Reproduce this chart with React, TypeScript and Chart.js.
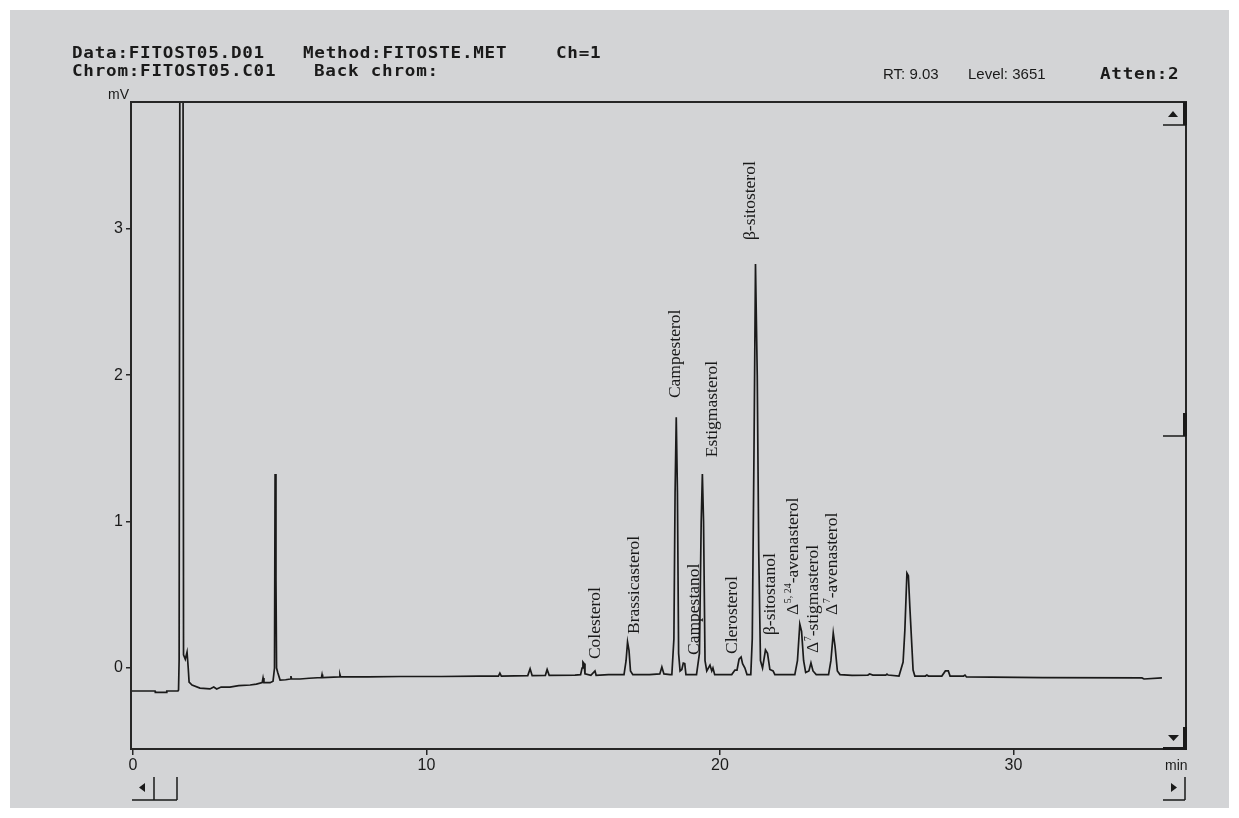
import React, { useEffect, useRef } from "react";
import { Chart, registerables } from "chart.js";

Chart.register(...registerables);

// ---- trace (retention time in min, detector signal in mV) ----
const retentionTime = [
  -0.07, 0.75, 0.76, 1.14, 1.15, 1.53, 1.55, 1.57, 1.6, 1.7, 1.72, 1.78, 1.84, 1.88, 1.91,
  2.01, 2.28, 2.62, 2.75, 2.85, 3.0, 3.3, 3.6, 3.99, 4.2, 4.4, 4.43, 4.46, 4.67, 4.77,
  4.82, 4.84, 4.87, 4.89, 4.93, 5.01, 5.2, 5.36, 5.38, 5.4, 5.69, 6.0, 6.42, 6.44, 6.46, 7.03, 7.05, 7.07, 8.0, 9.1,
  10.5, 11.8, 12.45, 12.5, 12.55, 13.45, 13.53, 13.6, 14.05, 14.11, 14.18, 15.06,
  15.25, 15.3, 15.33, 15.37, 15.4, 15.6, 15.74, 15.78, 16.2, 16.73, 16.8, 16.85, 16.9, 16.95, 17.03, 17.6, 17.95, 18.02, 18.09, 18.3,
  18.36, 18.43, 18.47, 18.51, 18.55, 18.59, 18.64, 18.7, 18.75, 18.8, 18.84, 19.2, 19.3, 19.36, 19.4, 19.44, 19.49, 19.55, 19.66, 19.72, 19.76, 19.82,
  20.4, 20.51, 20.58, 20.65, 20.72, 20.77, 20.85, 20.92, 21.05, 21.1, 21.16, 21.21, 21.27, 21.32, 21.38, 21.45, 21.55, 21.62, 21.7, 21.81, 21.87,
  22.55, 22.64, 22.72, 22.78, 22.85, 22.92, 23.03, 23.1, 23.17, 23.28, 23.7, 23.78, 23.86, 23.92, 24.0, 24.09, 24.5,
  25.04, 25.1, 25.21, 25.65, 25.69, 25.73, 26.1, 26.24, 26.3, 26.37, 26.42, 26.47, 26.54, 26.58, 26.64, 27.0, 27.05, 27.1,
  27.56, 27.68, 27.78, 27.84, 28.3, 28.35, 28.4, 31.0, 34.38, 34.45, 35.06,
];
const signalMv = [
  -0.157, -0.157, -0.167, -0.167, -0.157, -0.157, -0.15, 0.055, 5.0, 5.0, 0.09, 0.06, 0.109, 0.0, -0.096,
  -0.116, -0.137, -0.143, -0.13, -0.143, -0.13, -0.13, -0.12, -0.116, -0.11, -0.1, -0.068, -0.1, -0.1, -0.09,
  0.0, 1.324, 0.6, 0.0, -0.03, -0.082, -0.08, -0.075, -0.055, -0.075, -0.075, -0.07, -0.065, -0.045, -0.065, -0.06, -0.045, -0.06, -0.061, -0.058,
  -0.058, -0.055, -0.055, -0.035, -0.055, -0.052, -0.005, -0.052, -0.05, -0.01, -0.05, -0.048,
  -0.045, 0.0, 0.041, 0.03, -0.04, -0.05, -0.02, -0.05, -0.045, -0.045, 0.05, 0.177, 0.12, -0.02, -0.045, -0.045, -0.04, 0.007, -0.04, -0.045,
  -0.045, 0.2, 1.2, 1.713, 1.2, 0.1, -0.02, -0.01, 0.034, 0.03, -0.045, -0.045, 0.1, 1.0, 1.324, 1.0, 0.05, -0.02, 0.02, -0.02, 0.0, -0.045,
  -0.045, -0.014, -0.014, 0.06, 0.075, 0.03, 0.0, -0.045, -0.045, 0.2, 1.5, 2.758, 2.0, 0.8, 0.05, 0.0, 0.123, 0.1, -0.01, -0.02, -0.045,
  -0.045, 0.05, 0.3, 0.25, 0.05, -0.03, -0.02, 0.035, -0.02, -0.045, -0.045, 0.05, 0.239, 0.15, -0.02, -0.045, -0.05,
  -0.048, -0.041, -0.048, -0.048, -0.041, -0.048, -0.055, 0.041, 0.259, 0.648, 0.63, 0.416, 0.143, -0.014, -0.055, -0.055, -0.048, -0.055,
  -0.055, -0.02, -0.02, -0.055, -0.055, -0.048, -0.061, -0.065, -0.068, -0.075, -0.068,
];

// ---- axes ----
const xRange = [-0.07, 35.88];
const yRange = [-0.553, 3.865];
const xTickValues = [0, 10, 20, 30];
const yTickValues = [0, 1, 2, 3];

// ---- peak annotations (position: retention time of text baseline, signal at text start) ----
const labelMain = [
  "Colesterol", "Brassicasterol", "Campesterol", "Campestanol", "Estigmasterol", "Clerosterol",
  "β-sitosterol", "β-sitostanol", "Δ", "Δ", "Δ",
];
const labelSup = ["", "", "", "", "", "", "", "", "5, 24", "7", "7"];
const labelTail = ["", "", "", "", "", "", "", "", "-avenasterol", "-stigmasterol", "-avenasterol"];
const labelTime = [15.91, 17.24, 18.64, 19.28, 19.9, 20.58, 21.2, 21.88, 22.66, 23.34, 23.99];
const labelSignal = [0.061, 0.232, 1.843, 0.089, 1.44, 0.096, 2.922, 0.225, 0.362, 0.102, 0.362];

// ---- header texts ----
const headerLine1 = ["Data:FITOST05.D01", "Method:FITOSTE.MET", "Ch=1"];
const headerLine2 = ["Chrom:FITOST05.C01", "Back chrom:"];
const statusTexts = ["RT: 9.03", "Level: 3651"];
const attenText = "Atten:2";
const yUnit = "mV";
const xUnit = "min";

const INK = "#1a1a1a";

function drawMono(ctx: CanvasRenderingContext2D, text: string, x: number, y: number) {
  const adv = 11.35;
  for (let i = 0; i < text.length; i++) {
    ctx.save();
    ctx.translate(x + i * adv, y);
    ctx.scale(1.1, 1);
    ctx.fillText(text[i], 0, 0);
    ctx.restore();
  }
}

const decorPlugin = {
  id: "decor",
  beforeDraw(chart: any) {
    const ctx = chart.ctx as CanvasRenderingContext2D;
    ctx.save();
    ctx.fillStyle = "#ffffff";
    ctx.fillRect(0, 0, chart.width, chart.height);
    ctx.fillStyle = "#d3d4d6";
    ctx.fillRect(10, 10, 1219, 798);
    ctx.restore();
  },
  afterDraw(chart: any) {
    const ctx = chart.ctx as CanvasRenderingContext2D;
    const { left, right, top, bottom } = chart.chartArea;
    const xs = chart.scales.x;
    const ys = chart.scales.y;
    ctx.save();
    // frame
    ctx.strokeStyle = "#262626";
    ctx.lineWidth = 2;
    ctx.strokeRect(left, top, right - left, bottom - top);

    // scroll widgets on the right edge
    ctx.fillStyle = INK;
    ctx.fillRect(right - 3, top, 4, 23);
    ctx.fillRect(right - 3, 413, 4, 23);
    ctx.fillRect(right - 3, bottom - 22, 4, 22);
    ctx.fillRect(right - 23, bottom - 2, 24, 3);
    ctx.strokeStyle = INK;
    ctx.lineWidth = 1.5;
    ctx.beginPath();
    ctx.moveTo(right - 23, top + 23);
    ctx.lineTo(right, top + 23);
    ctx.moveTo(right - 23, 436);
    ctx.lineTo(right, 436);
    ctx.stroke();
    // arrows
    ctx.beginPath();
    ctx.moveTo(1168, 117);
    ctx.lineTo(1178, 117);
    ctx.lineTo(1173, 111);
    ctx.closePath();
    ctx.fill();
    ctx.beginPath();
    ctx.moveTo(1168, 735);
    ctx.lineTo(1179, 735);
    ctx.lineTo(1173.5, 741);
    ctx.closePath();
    ctx.fill();
    // bottom scroll widgets
    ctx.beginPath();
    ctx.moveTo(139, 787.5);
    ctx.lineTo(145, 783);
    ctx.lineTo(145, 792);
    ctx.closePath();
    ctx.fill();
    ctx.beginPath();
    ctx.moveTo(1177, 787.5);
    ctx.lineTo(1171, 783);
    ctx.lineTo(1171, 792);
    ctx.closePath();
    ctx.fill();
    ctx.lineWidth = 1.5;
    ctx.beginPath();
    ctx.moveTo(132, 800);
    ctx.lineTo(177, 800);
    ctx.moveTo(154, 777);
    ctx.lineTo(154, 800);
    ctx.moveTo(177, 777);
    ctx.lineTo(177, 800);
    ctx.moveTo(1163, 800);
    ctx.lineTo(1185, 800);
    ctx.moveTo(1185, 777);
    ctx.lineTo(1185, 800);
    ctx.stroke();

    // units
    ctx.fillStyle = INK;
    ctx.font = '14px "Liberation Sans"';
    ctx.textAlign = "left";
    ctx.textBaseline = "alphabetic";
    ctx.fillText(yUnit, 108, 99);
    ctx.fillText(xUnit, 1165, 770);

    // header
    ctx.font = 'bold 16px "DejaVu Sans Mono"';
    drawMono(ctx, headerLine1[0], 72, 58);
    drawMono(ctx, headerLine1[1], 303, 58);
    drawMono(ctx, headerLine1[2], 556, 58);
    drawMono(ctx, headerLine2[0], 72, 76);
    drawMono(ctx, headerLine2[1], 314, 76);
    drawMono(ctx, attenText, 1100, 79);
    ctx.font = '15px "Liberation Sans"';
    ctx.fillText(statusTexts[0], 883, 79);
    ctx.fillText(statusTexts[1], 968, 79);

    // peak annotations
    for (let i = 0; i < labelMain.length; i++) {
      const px = xs.getPixelForValue(labelTime[i]);
      const py = ys.getPixelForValue(labelSignal[i]);
      ctx.save();
      ctx.translate(px, py);
      ctx.rotate(-Math.PI / 2);
      ctx.font = '17.5px "Liberation Serif"';
      ctx.fillText(labelMain[i], 0, 0);
      let w = ctx.measureText(labelMain[i]).width;
      if (labelSup[i]) {
        ctx.font = '10px "Liberation Serif"';
        ctx.fillText(labelSup[i], w + 0.5, -7);
        w += ctx.measureText(labelSup[i]).width + 0.5;
        ctx.font = '17.5px "Liberation Serif"';
      }
      if (labelTail[i]) ctx.fillText(labelTail[i], w, 0);
      ctx.restore();
    }
    ctx.restore();
  },
};

export default function App() {
  const canvasRef = useRef<HTMLCanvasElement | null>(null);

  useEffect(() => {
    document.body.style.margin = "0";
    const canvas = canvasRef.current;
    if (!canvas) return;
    const points = retentionTime.map((t, i) => ({ x: t, y: signalMv[i] }));
    const tickFont = { family: '"Liberation Sans"', size: 16 };
    const chart = new Chart(canvas, {
      type: "line",
      data: {
        datasets: [
          {
            data: points,
            borderColor: INK,
            borderWidth: 1.7,
            pointRadius: 0,
            tension: 0,
            fill: false,
          },
        ],
      },
      options: {
        responsive: false,
        animation: false,
        devicePixelRatio: 1,
        layout: { padding: { left: 0, right: 53, top: 102, bottom: 0 } },
        plugins: { legend: { display: false }, tooltip: { enabled: false }, title: { display: false } },
        scales: {
          x: {
            type: "linear",
            min: xRange[0],
            max: xRange[1],
            afterBuildTicks: (s: any) => {
              s.ticks = xTickValues.map((v) => ({ value: v }));
            },
            afterFit: (s: any) => {
              s.height = 69;
            },
            ticks: {
              font: tickFont,
              color: INK,
              padding: 1,
              maxRotation: 0,
              autoSkip: false,
              callback: (v: any) => String(v),
            },
            grid: { display: true, drawOnChartArea: false, drawTicks: true, tickLength: 6, color: "#262626", lineWidth: 1.5 },
            border: { display: false },
          },
          y: {
            type: "linear",
            min: yRange[0],
            max: yRange[1],
            afterBuildTicks: (s: any) => {
              s.ticks = yTickValues.map((v) => ({ value: v }));
            },
            afterFit: (s: any) => {
              s.width = 131;
            },
            ticks: {
              font: tickFont,
              color: INK,
              padding: 3,
              autoSkip: false,
              callback: (v: any) => String(v),
            },
            grid: { display: true, drawOnChartArea: false, drawTicks: true, tickLength: 5, color: "#262626", lineWidth: 1.5 },
            border: { display: false },
          },
        },
      },
      plugins: [decorPlugin],
    } as any);
    return () => chart.destroy();
  }, []);

  return (
    <div style={{ width: 1239, height: 818, position: "relative" }}>
      <canvas ref={canvasRef} width={1239} height={818} style={{ position: "absolute", left: 0, top: 0 }} />
    </div>
  );
}
